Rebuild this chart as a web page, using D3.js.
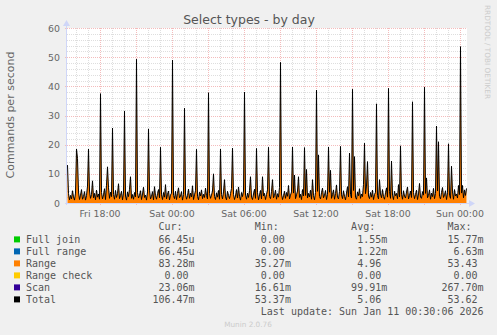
<!DOCTYPE html>
<html><head><meta charset="utf-8">
<script src="https://cdn.jsdelivr.net/npm/d3@7"></script>
<style>html,body{margin:0;padding:0;background:#f0f0f0;overflow:hidden}svg{display:block}</style>
</head><body><svg id="c" width="497" height="335"></svg>
<script>
// ---- data ----
const chartTitle = "Select types - by day";
const yAxisLabel = "Commands per second";
const yTickValues = [0, 10, 20, 30, 40, 50, 60];
const xTickLabels = ["Fri 18:00", "Sat 00:00", "Sat 06:00", "Sat 12:00", "Sat 18:00", "Sun 00:00"];
const startTime = new Date(2026, 0, 9, 15, 15);
const stepMinutes = 5;
// Total (≈ Range, the other series are ~0) per 5-minute sample
const totalValues = [
  13, 3.2, 1.1, 2.6, 1.4, 4.2, 2.1, 1.0, 3.4,
  18.5, 15.3, 3.8, 1.2, 2.7, 4.6, 1.3, 2.2, 3.9, 1.0, 2.5, 5.8,
  18.5, 4.1, 1.6, 2.9, 7.6, 1.8, 3.3, 1.1, 4.4, 2.0, 3.1, 1.3,
  37.5, 3.6, 1.4, 2.8, 4.9, 1.2, 6.1, 12.4, 5.2, 1.6, 3.7, 2.2,
  25.7, 2.9, 1.3, 4.3, 1.9, 3.2, 6.6, 1.5, 2.6, 4.0, 1.1, 3.4,
  31.5, 2.4, 1.0, 3.8, 2.2, 4.7, 9.0, 1.6, 2.9, 1.3, 3.6, 2.1,
  49.3, 3.5, 1.7, 2.6, 4.2, 1.2, 3.1, 5.4, 1.9, 2.7, 1.0, 3.8,
  25.4, 4.4, 1.4, 2.3, 3.9, 1.1, 5.6, 2.5, 1.3, 3.2, 4.6, 1.8,
  19.1, 2.8, 1.2, 3.6, 2.0, 6.3, 1.4, 3.0, 4.1, 1.1, 2.7, 3.4,
  49.0, 2.6, 1.5, 4.0, 1.2, 3.3, 5.2, 1.8, 2.4, 3.9, 1.0, 2.9,
  32.5, 3.1, 1.3, 2.5, 4.8, 1.6, 3.4, 2.1, 5.9, 1.2, 2.8, 4.2,
  18.4, 2.3, 1.1, 3.7, 2.4, 4.5, 1.5, 3.0, 1.9, 5.1, 2.6, 1.4,
  37.8, 3.3, 1.6, 2.7, 4.1, 10.0, 2.2, 1.2, 3.5, 2.0, 4.3, 1.3,
  18.5, 2.9, 1.4, 3.8, 8.0, 2.1, 1.1, 4.0, 2.6, 1.5, 3.2, 5.0,
  18.8, 3.0, 1.2, 2.4, 4.6, 1.7, 5.5, 2.3, 1.0, 3.6, 2.2, 4.1,
  38.0, 2.7, 1.3, 3.4, 1.9, 4.2, 9.0, 2.0, 1.2, 3.1, 4.7, 1.6,
  18.7, 3.5, 1.1, 2.8, 4.3, 1.4, 9.0, 2.4, 3.3, 1.2, 2.9, 4.5,
  19.1, 2.2, 1.5, 3.9, 8.0, 1.8, 2.6, 4.4, 1.3, 3.2, 2.0, 5.3,
  48.2, 3.1, 1.2, 2.5, 4.0, 1.6, 3.6, 2.3, 6.0, 1.4, 2.7, 3.8,
  19.2, 3.4, 9.6, 1.5, 2.8, 4.1, 9.0, 1.9, 3.0, 1.2, 4.6, 2.4,
  19.0, 2.6, 11.5, 1.7, 3.3, 2.1, 4.4, 1.3, 8.0, 2.5, 1.1, 3.6,
  38.7, 4.0, 16.5, 2.2, 1.4, 3.5, 5.1, 1.8, 2.7, 4.3, 1.2, 3.0,
  19.2, 3.7, 11.2, 1.6, 2.9, 4.5, 1.3, 3.2, 6.2, 2.0, 1.4, 3.9,
  19.4, 2.8, 1.5, 4.2, 2.3, 1.1, 3.4, 5.6, 2.1, 17.1, 3.0, 1.7,
  39.0, 4.3, 15.9, 2.0, 1.3, 3.8, 2.5, 4.9, 1.6, 3.1, 2.2, 6.4,
  20.5, 3.2, 5.8, 14.2, 2.4, 1.5, 3.6, 2.0, 4.4, 1.2, 2.9, 3.7,
  34.0, 2.5, 1.4, 8.0, 3.1, 1.8, 4.6, 2.2, 1.3, 3.5, 5.2, 2.0,
  39.3, 3.9, 1.6, 14.4, 2.7, 1.2, 4.0, 2.5, 3.3, 1.5, 6.3, 2.1,
  19.6, 3.0, 1.3, 4.2, 2.4, 1.7, 3.8, 5.5, 1.4, 2.6, 4.1, 1.9,
  34.7, 3.6, 1.5, 2.9, 4.4, 1.2, 3.1, 6.7, 2.0, 1.6, 3.9, 2.7,
  39.7, 3.3, 8.6, 1.8, 2.6, 4.5, 1.3, 3.4, 2.2, 5.0, 1.5, 3.2,
  26.4, 4.1, 21.0, 2.3, 1.4, 3.6, 5.3, 1.9, 2.8, 4.2, 1.2, 3.5,
  20.3, 2.7, 1.6, 12.6, 3.8, 1.3, 4.6, 2.4, 3.1, 1.7, 6.0, 2.9,
  53.6, 3.4, 6.0, 1.8, 4.5, 2.6, 5.0
];
const legendNames = ["Full join", "Full range", "Range", "Range check", "Scan", "Total"];
const legendColors = ["#00CC00", "#0066B3", "#FF8000", "#FFCC00", "#330099", "#000000"];
const curValues = ["66.45u", "66.45u", "83.28m", "0.00", "23.06m", "106.47m"];
const minValues = ["0.00", "0.00", "35.27m", "0.00", "16.61m", "53.37m"];
const avgValues = ["1.55m", "1.22m", "4.96", "0.00", "99.91m", "5.06"];
const maxValues = ["15.77m", "6.63m", "53.43", "0.00", "267.70m", "53.62"];
const legendHeaders = ["Cur:", "Min:", "Avg:", "Max:"];
const lastUpdateText = "Last update: Sun Jan 11 00:30:06 2026";
const versionText = "Munin 2.0.76";
const watermarkText = "RRDTOOL / TOBI OETIKER";

// ---- layout ----
const W = 497, H = 335;
const plot = {left: 67, right: 467, top: 28, bottom: 203};
const svg = d3.select("#c");
const sans = "'DejaVu Sans', Verdana, sans-serif";
const mono = "'DejaVu Sans Mono', monospace";

svg.append("rect").attr("width", W).attr("height", H).attr("fill", "#f0f0f0");
svg.append("rect").attr("x", plot.left).attr("y", plot.top)
  .attr("width", plot.right - plot.left).attr("height", plot.bottom - plot.top).attr("fill", "#ffffff");

const stepMs = stepMinutes * 60000;
const endTime = new Date(startTime.getTime() + totalValues.length * stepMs);
const x = d3.scaleTime().domain([startTime, endTime]).range([plot.left, plot.right]);
const y = d3.scaleLinear().domain([0, 60]).range([plot.bottom, plot.top]);

// grid
const minorCol = "#dedede", majorCol = "#f4bcbc";
const g = svg.append("g");
const minorY = d3.range(0, 61, 2).filter(v => v % 10 !== 0);
g.selectAll(".hmin").data(minorY).join("line")
  .attr("x1", plot.left).attr("x2", plot.right)
  .attr("y1", d => Math.round(y(d)) + 0.5).attr("y2", d => Math.round(y(d)) + 0.5)
  .attr("stroke", minorCol).attr("stroke-dasharray", "1,1");
const hourTicks = x.ticks(d3.timeHour.every(1));
const majorTimes = x.ticks(d3.timeHour.every(3));
const majorSet = new Set(majorTimes.map(d => +d));
g.selectAll(".vmin").data(hourTicks.filter(d => !majorSet.has(+d))).join("line")
  .attr("x1", d => Math.round(x(d)) + 0.5).attr("x2", d => Math.round(x(d)) + 0.5)
  .attr("y1", plot.top).attr("y2", plot.bottom)
  .attr("stroke", minorCol).attr("stroke-dasharray", "1,1");
g.selectAll(".hmaj").data(yTickValues.filter(v => v > 0)).join("line")
  .attr("x1", plot.left - 2).attr("x2", plot.right)
  .attr("y1", d => Math.round(y(d)) + 0.5).attr("y2", d => Math.round(y(d)) + 0.5)
  .attr("stroke", majorCol).attr("stroke-dasharray", "1,1");
g.selectAll(".vmaj").data(majorTimes).join("line")
  .attr("x1", d => Math.round(x(d)) + 0.5).attr("x2", d => Math.round(x(d)) + 0.5)
  .attr("y1", plot.top).attr("y2", plot.bottom + 2)
  .attr("stroke", majorCol).attr("stroke-dasharray", "1,1");

// data
const pts = totalValues.map((v, i) => ({t: new Date(startTime.getTime() + i * stepMs + stepMs / 2), v}));
svg.append("path").datum(pts)
  .attr("d", d3.area().x(d => x(d.t)).y0(y(0)).y1(d => y(d.v)))
  .attr("fill", legendColors[2]);
svg.append("path").datum(pts)
  .attr("d", d3.line().x(d => x(d.t)).y(d => y(d.v)))
  .attr("fill", "none").attr("stroke", legendColors[5]).attr("stroke-width", 1);

// axes
const axisCol = "#CFD6F8";
svg.append("line").attr("x1", plot.left - 2).attr("x2", plot.right + 3)
  .attr("y1", plot.bottom + 0.5).attr("y2", plot.bottom + 0.5).attr("stroke", axisCol);
svg.append("line").attr("x1", plot.left - 0.5).attr("x2", plot.left - 0.5)
  .attr("y1", plot.bottom + 2).attr("y2", plot.top - 3).attr("stroke", axisCol);
svg.append("path").attr("d", `M${plot.right + 2},${plot.bottom - 3} L${plot.right + 8},${plot.bottom + 0.5} L${plot.right + 2},${plot.bottom + 4} Z`).attr("fill", axisCol);
svg.append("path").attr("d", `M${plot.left - 4},${plot.top - 2} L${plot.left - 0.5},${plot.top - 8} L${plot.left + 3},${plot.top - 2} Z`).attr("fill", axisCol);

// tick labels
const txt = "#666666";
svg.selectAll(".yl").data(yTickValues).join("text")
  .attr("x", 60).attr("y", d => y(d) + 3.5).attr("text-anchor", "end")
  .attr("font-family", sans).attr("font-size", 9.4).attr("fill", txt).text(d => d);
const labelTimes = x.ticks(d3.timeHour.every(6));
svg.selectAll(".xl").data(labelTimes).join("text")
  .attr("x", d => x(d)).attr("y", 216.5).attr("text-anchor", "middle")
  .attr("font-family", sans).attr("font-size", 9.4).attr("fill", txt)
  .text((d, i) => xTickLabels[i]);

// title, y label, watermark
svg.append("text").attr("x", 249).attr("y", 24).attr("text-anchor", "middle")
  .attr("font-family", sans).attr("font-size", 12.5).attr("fill", "#555555").text(chartTitle);
svg.append("text").attr("transform", "translate(14,115) rotate(-90)").attr("text-anchor", "middle")
  .attr("font-family", sans).attr("font-size", 11).attr("fill", txt).text(yAxisLabel);
svg.append("text").attr("transform", "translate(484.5,5) rotate(90)")
  .attr("font-family", sans).attr("font-size", 7.3).attr("fill", "#cccccc").text(watermarkText);

// legend
const cw0 = 26;
function field(v) {
  const hasUnit = /[a-zA-Z]$/.test(v);
  return (hasUnit ? v : v + " ").padStart(7, " ");
}
const gap = " ".repeat(9);
let header = " ".repeat(22) + legendHeaders[0];
header = header.padEnd(38) + legendHeaders[1];
header = header.padEnd(54) + legendHeaders[2];
header = header.padEnd(70) + legendHeaders[3];
const rows = [header].concat(legendNames.map((n, i) =>
  n.padEnd(21) + field(curValues[i]) + gap + field(minValues[i]) + gap + field(avgValues[i]) + gap + field(maxValues[i])));
rows.push(lastUpdateText.padStart(76));
const rowY = [230.4, 243.4, 255.4, 267.4, 279.4, 291.4, 303.4, 315.4];
svg.selectAll(".lg").data(rows).join("text")
  .attr("x", cw0).attr("y", (d, i) => rowY[i])
  .attr("xml:space", "preserve").style("white-space", "pre")
  .attr("font-family", mono).attr("font-size", 10).attr("fill", "#555555").text(d => d);
svg.selectAll(".sw").data(legendColors).join("rect")
  .attr("x", 14).attr("y", (d, i) => rowY[i + 1] - 7).attr("width", 6).attr("height", 6)
  .attr("fill", d => d);
svg.append("text").attr("x", 248).attr("y", 327).attr("text-anchor", "middle")
  .attr("font-family", sans).attr("font-size", 7.3).attr("fill", "#cccccc").text(versionText);
</script>
</body></html>
